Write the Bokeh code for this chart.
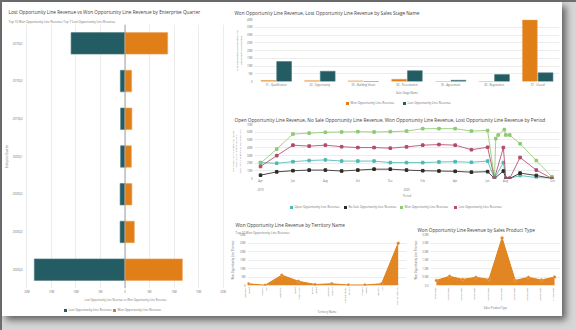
from bokeh.plotting import figure
from bokeh.layouts import row, column
from bokeh.models import (FactorRange, Range1d, FixedTicker, Title, LinearAxis, Span,
                          ColumnDataSource, Div, Spacer)
from bokeh.transform import dodge
from bokeh.embed import file_html
from bokeh.resources import INLINE

# ---------------- data ----------------
quarters = ["2019Q2", "2019Q3", "2019Q4", "2020Q1", "2020Q2", "2020Q3", "2020Q4"]
quarter_lost_m = [11.0, 0.95, 0.9, 0.9, 1.0, 1.0, 18.5]
quarter_won_m = [8.7, 1.35, 1.4, 1.3, 1.4, 1.9, 11.7]
quarter_ticks = [-20, -15, -10, -5, 0, 5, 10, 15, 20]
quarter_tick_labels = ["20M", "15M", "10M", "5M", "0", "5M", "10M", "15M", "20M"]

stages = ["01 - Qualification", "02 - Opportunity", "03 - Building Vision",
          "04 - Presentation", "05 - Agreement", "06 - Negotiation", "07 - Closed"]
stage_won_m = [0.6, 0.5, 0.4, 1.4, 0.0, 0.0, 39.7]
stage_lost_m = [12.9, 6.6, 0.0, 7.0, 0.8, 4.5, 5.6]
stage_ticks = [0, 5, 10, 15, 20, 25, 30, 35, 40]
stage_tick_labels = ["0", "5M", "10M", "15M", "20M", "25M", "30M", "35M", "40M"]

# period chart: month index (0 = Apr 2019)
period_months = [0, 1, 2, 3, 4, 5, 6, 7, 8, 9, 10, 11, 12, 13, 14]
open_monthly_m = [20.6, 19.8, 21.8, 23.3, 24.1, 22.6, 22.6, 22.6, 20.6, 20.6, 20.6, 21.4, 21.8, 21.0, 22.6]
nosale_monthly_m = [4.3, 8.6, 10.1, 10.9, 10.9, 9.7, 10.9, 12.1, 12.1, 10.9, 10.1, 9.7, 9.3, 8.2, 8.9]
won_monthly_m = [19.8, 38.1, 57.6, 58.8, 59.9, 60.3, 60.7, 60.3, 60.7, 61.5, 64.6, 64.6, 64.6, 61.5, 62.2]
lost_monthly_m = [15.6, 29.6, 43.2, 42.0, 43.2, 41.2, 40.1, 40.1, 39.3, 41.0, 43.2, 44.0, 43.2, 37.3, 40.5]
won_late_x = [14.42, 14.5, 14.65, 15.03, 15.12, 15.36, 16.0, 17.0, 17.96]
won_late_m = [0.0, 51.7, 56.4, 63.4, 56.4, 56.4, 45.1, 23.3, 2.3]
other_late_x = [14.42, 14.97, 15.12, 15.36, 16.0, 17.0, 17.96]
open_late_m = [0.0, 20.6, 0.0, 0.0, 3.9, 1.2, 0.0]
nosale_late_m = [0.0, 9.7, 0.0, 0.0, 7.0, 3.9, 0.0]
lost_late_m = [0.0, 40.1, 0.0, 0.0, 27.2, 10.9, 0.0]
period_ticks = [0, 2, 4, 6, 8, 10, 12, 14, 15.1, 18]
period_tick_labels = ["Apr", "Jun", "Aug", "Oct", "Dec", "Feb", "Apr", "Jun", "Aug", "Oct"]
year_ticks = [0, 9]
year_labels = ["2019", "2020"]
period_value_ticks = [0, 10, 20, 30, 40, 50, 60, 70]
period_value_labels = ["0", "10M", "20M", "30M", "40M", "50M", "60M", "70M"]

territories = ["Japan\nAustralia", "UK\nIreland", "Germany", "APAC (SEA)\nJapan", "Japan\nKorea",
               "Nordics\nBenelux", "LATAM\nSouth Europe", "Brazil\nMexico", "US\nCentral", "UNITED STATES"]
territory_won_m = [1.0, 0.2, 6.1, 2.5, 0.6, 1.0, 0.3, 0.3, 1.0, 24.9]
territory_ticks = [0, 5, 10, 15, 20, 25, 30]
territory_tick_labels = ["0", "5M", "10M", "15M", "20M", "25M", "30M"]

products = ["SERVICES01", "SERVICES02", "SERVICES03", "SERVICES04", "SERVICES05",
            "SERVICES06", "SERVICES07", "SERVICES08", "SERVICES09", "SERVICES10"]
product_won_m = [0.30, 0.54, 0.36, 0.48, 0.36, 2.80, 0.30, 0.48, 0.32, 0.50]
product_ticks = [0, 0.5, 1.0, 1.5, 2.0, 2.5, 3.0]
product_tick_labels = ["0.0", "0.5M", "1.0M", "1.5M", "2.0M", "2.5M", "3.0M"]

# ---------------- styles ----------------
FONT = "Open Sans"
TEAL = "#235d63"
ORANGE = "#e07f17"
C_OPEN = "#4dbab4"
C_NOSALE = "#2e2a28"
C_WON = "#8fca72"
C_LOST = "#b24a6e"
TITLE_C = "#3e3e3c"
LABEL_C = "#706e6b"
GRID_C = "#ececec"
TS = "4.7px"
SS = "3px"
TK = "2.7px"
LEG_H = 12


def base_fig(w, h, **kw):
    p = figure(width=w, height=h, output_backend="svg", toolbar_location=None,
               title=None, **kw)
    p.outline_line_color = None
    p.border_fill_color = "white"
    p.background_fill_color = "white"
    return p


def style_axes(p):
    for ax in p.axis:
        ax.major_label_text_font = FONT
        ax.major_label_text_font_size = TK
        ax.major_label_text_color = LABEL_C
        ax.axis_label_text_font = FONT
        ax.axis_label_text_font_size = TK
        ax.axis_label_text_color = LABEL_C
        ax.axis_label_text_font_style = "normal"
        ax.axis_line_color = None
        ax.major_tick_line_color = None
        ax.minor_tick_line_color = None
        ax.major_tick_out = 0
        ax.major_tick_in = 0
        ax.minor_tick_out = 0
        ax.minor_tick_in = 0
        ax.major_label_standoff = 2
        ax.axis_label_standoff = 2


def add_titles(p, title, subtitle=None, offset=0, t_standoff=3, s_standoff=2):
    if subtitle:
        p.add_layout(Title(text=subtitle, text_font=FONT, text_font_size=SS,
                           text_color=LABEL_C, text_font_style="normal",
                           offset=offset, standoff=s_standoff), "above")
    p.add_layout(Title(text=title, text_font=FONT, text_font_size=TS,
                       text_color=TITLE_C, text_font_style="normal",
                       offset=offset, standoff=t_standoff), "above")


def legend_div(w, h, labels, colors, xs):
    """Legend strip under a chart: colour squares with their labels."""
    parts = []
    for lab, col, x in zip(labels, colors, xs):
        parts.append(
            f'<span style="position:absolute;left:{x}px;top:0;height:{h}px;display:flex;'
            f'align-items:center;white-space:nowrap;">'
            f'<span style="display:inline-block;width:3px;height:3px;background:{col};'
            f'margin-right:1.5px;"></span>{lab}</span>')
    html = (f'<div style="position:relative;width:{w}px;height:{h}px;overflow:hidden;'
            f'font-family:\'{FONT}\';font-size:3px;line-height:{h}px;color:{LABEL_C};">'
            + "".join(parts) + '</div>')
    return Div(text=html, width=w, height=h, margin=0,
               styles={"background-color": "white", "overflow": "hidden"})


# ---------------- left chart ----------------
p1 = base_fig(226, 302, y_range=FactorRange(factors=list(reversed(quarters))),
              x_range=Range1d(-20.5, 20.7),
              min_border_left=21, min_border_right=2, min_border_top=22, min_border_bottom=12)
lost_left = [-v for v in quarter_lost_m]
p1.hbar(y=quarters, left=lost_left, right=0, height=0.57,
        fill_color=TEAL, line_color="#4f8086", line_width=0.6)
p1.hbar(y=quarters, left=0, right=quarter_won_m, height=0.57,
        fill_color=ORANGE, line_color="#eaa35a", line_width=0.6)
p1.add_layout(Span(location=0, dimension="height", line_color="#a0a0a0", line_width=1))
p1.xaxis.ticker = FixedTicker(ticks=quarter_ticks)
p1.xaxis.major_label_overrides = dict(zip(quarter_ticks, quarter_tick_labels))
p1.xaxis.axis_label = "Lost Opportunity Line Revenue vs Won Opportunity Line Revenue"
p1.yaxis.axis_label = "Enterprise Quarter"
p1.xgrid.grid_line_color = GRID_C
p1.ygrid.grid_line_color = None
style_axes(p1)
p1.yaxis.major_label_standoff = 2
p1.yaxis.axis_label_standoff = 1
p1.xaxis.major_label_standoff = 2
p1.xaxis.axis_label_standoff = 1
add_titles(p1, "Lost Opportunity Line Revenue vs Won Opportunity Line Revenue by Enterprise Quarter",
           "Top 10 Won Opportunity Line Revenue    Top 7 Lost Opportunity Line Revenue", offset=-16)
leg1 = legend_div(226, LEG_H, ["Lost Opportunity Line Revenue", "Won Opportunity Line Revenue"],
                  [TEAL, ORANGE], [62, 111])

# ---------------- stage chart ----------------
src_stage = ColumnDataSource(dict(stage=stages, won=stage_won_m, lost=stage_lost_m))
p2 = base_fig(334, 95, x_range=FactorRange(factors=stages), y_range=Range1d(0, 40),
              min_border_left=25, min_border_right=3, min_border_top=17, min_border_bottom=13)
p2.vbar(x=dodge("stage", -0.18, range=p2.x_range), top="won", width=0.34, source=src_stage,
        fill_color=ORANGE, line_color="#eaa35a", line_width=0.6)
p2.vbar(x=dodge("stage", 0.18, range=p2.x_range), top="lost", width=0.34, source=src_stage,
        fill_color=TEAL, line_color="#4f8086", line_width=0.6)
p2.yaxis.ticker = FixedTicker(ticks=stage_ticks)
p2.yaxis.major_label_overrides = dict(zip(stage_ticks, stage_tick_labels))
p2.xaxis.axis_label = "Sales Stage Name"
p2.yaxis.axis_label = "Won Opportunity Line Revenue, Lost\nOpportunity Line Revenue"
p2.xgrid.grid_line_color = None
p2.ygrid.grid_line_color = GRID_C
p2.x_range.range_padding = 0
style_axes(p2)
p2.xaxis.axis_label_standoff = 1
p2.yaxis.axis_label_text_font_size = "2.4px"
add_titles(p2, "Won Opportunity Line Revenue, Lost Opportunity Line Revenue by Sales Stage Name",
           offset=-20, t_standoff=8)
leg2 = legend_div(334, LEG_H, ["Won Opportunity Line Revenue", "Lost Opportunity Line Revenue"],
                  [ORANGE, TEAL], [118, 175])

# ---------------- period chart ----------------
p3 = base_fig(334, 92, x_range=Range1d(-0.37, 18.43), y_range=Range1d(0, 70),
              min_border_left=25, min_border_right=3, min_border_top=15, min_border_bottom=17)
series_names = ["Open Opportunity Line Revenue", "No Sale Opportunity Line Revenue",
                "Won Opportunity Line Revenue", "Lost Opportunity Line Revenue"]
series_colors = [C_OPEN, C_NOSALE, C_WON, C_LOST]
series_monthly = [open_monthly_m, nosale_monthly_m, won_monthly_m, lost_monthly_m]
series_late_x = [other_late_x, other_late_x, won_late_x, other_late_x]
series_late_y = [open_late_m, nosale_late_m, won_late_m, lost_late_m]
for col, monthly, late_x, late_y in zip(series_colors, series_monthly, series_late_x, series_late_y):
    xs = period_months + late_x
    ys = monthly + late_y
    p3.line(xs, ys, line_color=col, line_width=1, line_alpha=0.85)
    p3.scatter(xs, ys, marker="square", size=2.6, fill_color=col, line_color=col)
p3.xaxis.ticker = FixedTicker(ticks=period_ticks)
p3.xaxis.major_label_overrides = dict(zip(period_ticks, period_tick_labels))
p3.yaxis.ticker = FixedTicker(ticks=period_value_ticks)
p3.yaxis.major_label_overrides = dict(zip(period_value_ticks, period_value_labels))
p3.yaxis.axis_label = "Open Opportunity Line Revenue, No Sale\nOpportunity Line Revenue, Won\nOpportunity Line Revenue, Lost Opportunity"
year_axis = LinearAxis(ticker=FixedTicker(ticks=year_ticks),
                       major_label_overrides=dict(zip(year_ticks, year_labels)),
                       axis_label="Period")
p3.add_layout(year_axis, "below")
p3.xgrid.grid_line_color = None
p3.ygrid.grid_line_color = GRID_C
style_axes(p3)
p3.yaxis.axis_label_text_font_size = "2.2px"
for ax in p3.xaxis:
    ax.major_label_standoff = 1
    ax.axis_label_standoff = 1
add_titles(p3, "Open Opportunity Line Revenue, No Sale Opportunity Line Revenue, Won Opportunity Line Revenue, Lost Opportunity Line Revenue by Period",
           offset=-20, t_standoff=4)
leg3 = legend_div(334, LEG_H, series_names, series_colors, [62, 116, 172, 226])

# ---------------- territory chart ----------------
terr_idx = list(range(len(territories)))
p4 = base_fig(182, 103, x_range=Range1d(-0.06, 9.5), y_range=Range1d(0, 30),
              min_border_left=17, min_border_right=4, min_border_top=21, min_border_bottom=29)
p4.varea(x=terr_idx, y1=0, y2=territory_won_m, fill_color=ORANGE, fill_alpha=0.95)
p4.line(x=terr_idx, y=territory_won_m, line_color=ORANGE, line_width=1)
p4.scatter(x=terr_idx, y=territory_won_m, size=3, fill_color=ORANGE, line_color="#f3b77a", line_width=0.5)
p4.xaxis.ticker = FixedTicker(ticks=terr_idx)
p4.xaxis.major_label_overrides = dict(zip(terr_idx, territories))
p4.yaxis.ticker = FixedTicker(ticks=territory_ticks)
p4.yaxis.major_label_overrides = dict(zip(territory_ticks, territory_tick_labels))
p4.xaxis.axis_label = "Territory Name"
p4.yaxis.axis_label = "Won Opportunity Line Revenue"
p4.xaxis.major_label_orientation = "vertical"
p4.xgrid.grid_line_color = None
p4.ygrid.grid_line_color = GRID_C
style_axes(p4)
p4.xaxis.major_label_text_font_size = "2.4px"
add_titles(p4, "Won Opportunity Line Revenue by Territory Name", "Top 10 Won Opportunity Line Revenue",
           offset=-12, t_standoff=2, s_standoff=0)

# ---------------- product chart ----------------
prod_idx = list(range(len(products)))
p5 = base_fig(152, 103, x_range=Range1d(-0.45, 9.45), y_range=Range1d(0, 3.0),
              min_border_left=18, min_border_right=2, min_border_top=21, min_border_bottom=29)
p5.varea(x=prod_idx, y1=0, y2=product_won_m, fill_color=ORANGE, fill_alpha=0.95)
p5.line(x=prod_idx, y=product_won_m, line_color=ORANGE, line_width=1)
p5.scatter(x=prod_idx, y=product_won_m, size=3, fill_color=ORANGE, line_color="#f3b77a", line_width=0.5)
p5.xaxis.ticker = FixedTicker(ticks=prod_idx)
p5.xaxis.major_label_overrides = dict(zip(prod_idx, products))
p5.yaxis.ticker = FixedTicker(ticks=product_ticks)
p5.yaxis.major_label_overrides = dict(zip(product_ticks, product_tick_labels))
p5.xaxis.axis_label = "Sales Product Type"
p5.yaxis.axis_label = "Won Opportunity Line Revenue"
p5.xaxis.major_label_orientation = "vertical"
p5.xgrid.grid_line_color = None
p5.ygrid.grid_line_color = GRID_C
style_axes(p5)
p5.xaxis.major_label_text_font_size = "2.4px"
add_titles(p5, "Won Opportunity Line Revenue by Sales Product Type", offset=-13, t_standoff=4)

# ---------------- layout ----------------
left = column(p1, leg1, spacing=0)
right = column(p2, leg2, p3, leg3, row(p4, p5, spacing=0), spacing=0)
inner = row(left, right, spacing=0,
            styles={"background-color": "white", "box-shadow": "4px 4px 7px rgba(0,0,0,0.55)"})
root = column(row(inner, Spacer(width=14, height=314), spacing=0),
              Spacer(width=574, height=14), spacing=0,
              styles={"background-color": "#d6d6d6", "border-top": "2px solid #6e6e6e",
                      "border-left": "2px solid #6e6e6e"})

with open("out.html", "w") as f:
    f.write(file_html(root, INLINE))
